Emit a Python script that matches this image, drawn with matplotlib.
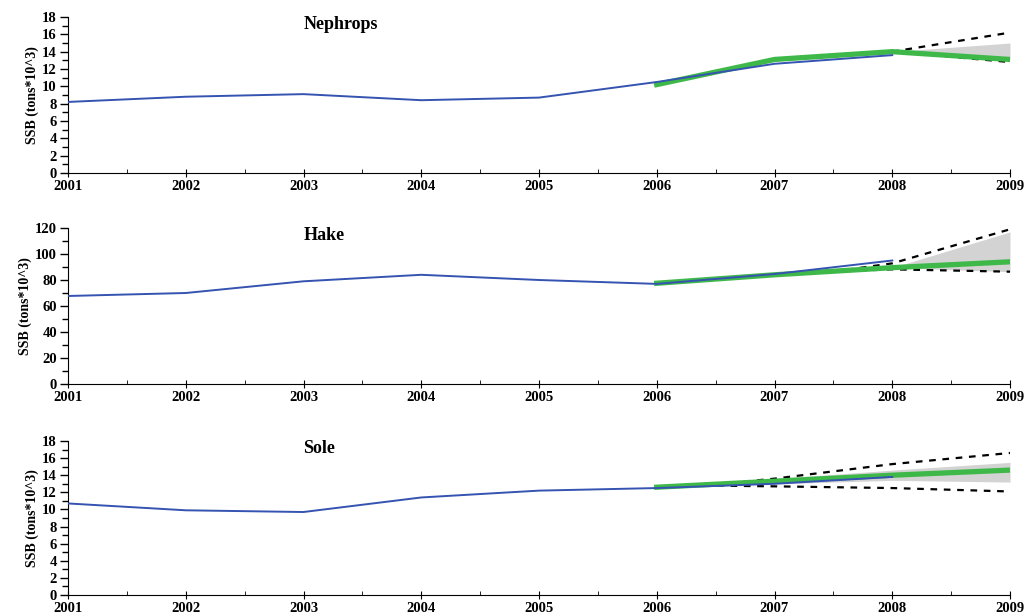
import matplotlib

matplotlib.use("Agg")
import matplotlib.pyplot as plt
from matplotlib.ticker import MultipleLocator

plt.rcParams.update(
    {
        "font.family": ["Liberation Serif", "DejaVu Serif"],
        "font.weight": "bold",
        "font.size": 9,
    }
)

years = [2001, 2002, 2003, 2004, 2005, 2006, 2007, 2008]
proj_years = [2006, 2007, 2008, 2009]
band_years = [2008, 2009]

# Nephrops
neph_obs = [8.2, 8.8, 9.1, 8.4, 8.7, 10.5, 12.6, 13.6]
neph_proj = [10.2, 13.1, 14.0, 13.1]
neph_band_lo = [14.0, 13.1]
neph_band_hi = [14.0, 15.0]
neph_ci_years = [2008, 2009]
neph_ci_lo = [14.0, 12.8]
neph_ci_hi = [14.0, 16.2]

# Hake
hake_obs = [67.7, 70.0, 79.0, 84.0, 80.0, 77.0, 84.6, 95.0]
hake_proj = [77.5, 84.0, 89.5, 94.0]
hake_band_lo = [89.5, 86.4]
hake_band_hi = [89.5, 117.0]
hake_ci_years = [2007.5, 2008, 2009]
hake_ci_lo = [86.5, 88.2, 86.4]
hake_ci_hi = [86.5, 92.8, 119.0]

# Sole
sole_obs = [10.7, 9.9, 9.7, 11.4, 12.2, 12.5, 13.0, 13.8]
sole_proj = [12.6, 13.3, 14.0, 14.6]
sole_band_years = [2006, 2007, 2008, 2009]
sole_band_lo = [12.6, 13.0, 13.4, 13.2]
sole_band_hi = [12.6, 13.6, 14.6, 15.5]
sole_ci_years = [2006.4, 2007, 2008, 2009]
sole_ci_lo = [12.8, 12.7, 12.5, 12.1]
sole_ci_hi = [12.8, 13.6, 15.3, 16.6]

panels = [
    ("Nephrops", neph_obs, neph_proj, band_years, neph_band_lo, neph_band_hi,
     neph_ci_years, neph_ci_lo, neph_ci_hi, 18, 2, 1),
    ("Hake", hake_obs, hake_proj, band_years, hake_band_lo, hake_band_hi,
     hake_ci_years, hake_ci_lo, hake_ci_hi, 120, 20, 10),
    ("Sole", sole_obs, sole_proj, sole_band_years, sole_band_lo, sole_band_hi,
     sole_ci_years, sole_ci_lo, sole_ci_hi, 18, 2, 1),
]

fig = plt.figure(figsize=(10.24, 6.13), dpi=100)
bottoms = [1 - 173 / 613, 1 - 384 / 613, 1 - 595 / 613]
heights = [156 / 613, 156 / 613, 154 / 613]
left, width = 68 / 1024, 942 / 1024

for (name, obs, proj, byrs, blo, bhi, cyrs, clo, chi, ymax, major, minor), b, h in zip(
    panels, bottoms, heights
):
    ax = fig.add_axes([left, b, width, h])
    ax.fill_between(byrs, blo, bhi, color="#d3d3d3", lw=0, zorder=1)
    ax.plot(cyrs, chi, ls=(0, (3, 3)), color="black", lw=1.6, zorder=2)
    ax.plot(cyrs, clo, ls=(0, (3, 3)), color="black", lw=1.6, zorder=2)
    ax.plot(proj_years, proj, color="#3fb84a", lw=3.8, zorder=3)
    ax.plot(years, obs, color="#3553b0", lw=1.4, zorder=4)

    ax.set_xlim(2001, 2009)
    ax.set_ylim(0, ymax)
    ax.xaxis.set_major_locator(MultipleLocator(1))
    ax.xaxis.set_minor_locator(MultipleLocator(0.5))
    ax.yaxis.set_major_locator(MultipleLocator(major))
    ax.yaxis.set_minor_locator(MultipleLocator(minor))
    ax.tick_params(axis="y", which="major", length=6, width=1, labelsize=10.5, pad=2)
    ax.tick_params(axis="y", which="minor", length=4, width=1)
    ax.tick_params(axis="x", which="major", direction="inout", length=6, labelsize=10.5, pad=2)
    ax.tick_params(axis="x", which="minor", direction="in", length=3)
    for lab in ax.get_xticklabels() + ax.get_yticklabels():
        lab.set_fontweight("bold")
    ax.spines["top"].set_visible(False)
    ax.spines["right"].set_visible(False)
    ax.set_ylabel("SSB (tons*10^3)", fontsize=10, fontweight="bold", labelpad=2)
    ax.text(2003.0, ymax * 0.95, name, fontsize=13, fontweight="bold", ha="left", va="center")

fig.savefig("out.png", dpi=100, facecolor="white")
